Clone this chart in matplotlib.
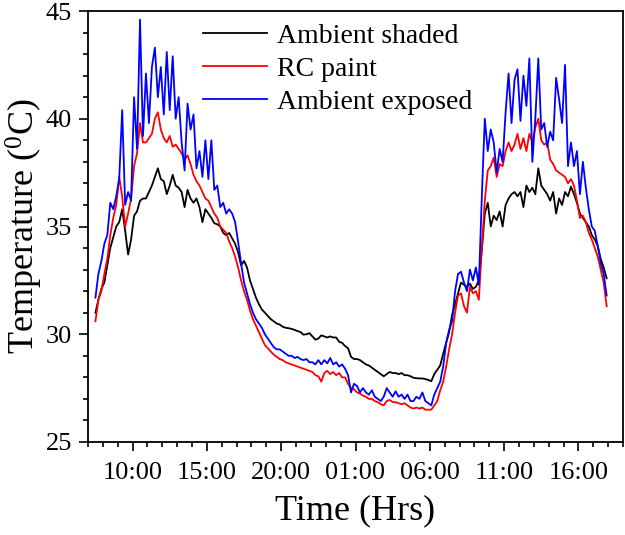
import numpy as np
import matplotlib
matplotlib.use("Agg")
import matplotlib.pyplot as plt
from matplotlib.ticker import AutoMinorLocator, FixedLocator

plt.rcParams['font.family'] = ['Liberation Serif', 'DejaVu Serif']
plt.rcParams['mathtext.fontset'] = 'custom'
plt.rcParams['mathtext.rm'] = 'Liberation Serif'
plt.rcParams['mathtext.it'] = 'Liberation Serif'

# sample times: hours since midnight of day 1, one reading every 0.2 h
start_hour = 7.5
step_hours = 0.2

ambient_shaded = [
    31.0, 31.6, 32.1, 32.4, 33.2, 34.0, 34.5, 35.0, 35.2, 35.8, 34.8, 33.7, 34.4,
    35.5, 35.7, 36.2, 36.3, 36.3, 36.6, 36.9, 37.3, 37.7, 37.2, 37.1, 36.5, 36.9, 37.4, 36.9,
    36.8, 36.6, 35.9, 36.7, 36.3, 36.1, 36.3, 35.9, 35.2, 35.8, 35.6, 35.4, 35.15, 35.1, 35.0, 34.7, 34.6, 34.7, 34.45, 34.2,
    33.8, 33.2, 33.4, 33.1, 32.5, 32.1, 31.7, 31.4, 31.15, 31.0,
    30.85, 30.7, 30.6, 30.5, 30.45, 30.35, 30.3, 30.28, 30.25, 30.2, 30.15, 30.1, 29.98, 30.0, 30.05,
    29.9, 29.75, 29.8, 29.95, 29.9, 29.85, 29.9, 29.85, 29.85, 29.65, 29.6, 29.45, 29.35, 28.95, 28.85,
    28.85, 28.8, 28.7, 28.6, 28.55, 28.45, 28.35, 28.25, 28.15, 28.05, 28.15, 28.25, 28.2, 28.2, 28.15,
    28.2, 28.1, 28.1, 28.05, 27.98, 27.96, 27.95, 27.95, 27.92, 27.88, 27.82, 28.15, 28.35, 28.55, 29.1,
    29.6, 30.1, 30.9, 31.4, 31.9, 32.4, 32.3, 32.2, 32.35, 32.1, 32.2, 32.5, 33.9, 35.6, 36.1,
    35.0, 35.5, 35.3, 35.7, 35.0, 36.0, 36.3, 36.5, 36.6, 36.4, 36.6, 35.9, 36.9, 36.6, 36.8, 36.5, 37.7, 36.9, 36.7, 36.5,
    36.2, 36.6, 35.6, 36.3, 36.0, 36.6, 36.4, 36.85, 36.5, 36.1, 35.6, 35.4, 35.2, 35.0, 34.6, 34.4, 34.1, 33.5, 33.1, 32.6,
]

rc_paint = [
    30.6, 31.6, 32.0, 32.8, 33.5, 34.6, 35.4, 36.0, 37.3, 36.4, 35.0, 35.6, 36.3,
    37.8, 38.4, 39.8, 38.9, 38.9, 39.1, 39.3, 40.0, 40.3, 39.5, 39.1, 38.9, 39.2, 38.7, 38.8,
    38.6, 38.4, 38.1, 38.3, 37.9, 37.4, 37.1, 36.9, 36.6, 36.3, 36.2, 35.9, 35.6, 35.4, 35.0, 34.85, 34.7, 34.3, 34.0, 33.6,
    33.1, 32.5, 32.0, 31.6, 31.1, 30.7, 30.4, 30.1, 29.8, 29.5,
    29.35, 29.2, 29.05, 28.95, 28.85, 28.8, 28.7, 28.65, 28.6, 28.55, 28.5, 28.45, 28.4, 28.35, 28.3,
    28.25, 28.1, 28.05, 27.8, 28.2, 28.3, 28.15, 28.25, 28.1, 28.2, 28.0, 28.0, 27.7, 27.5, 27.45,
    27.3, 27.25, 27.15, 27.1, 27.0, 27.0, 26.9, 26.85, 26.75, 26.7, 26.9, 26.95, 26.85, 26.85, 26.8,
    26.75, 26.8, 26.7, 26.6, 26.55, 26.6, 26.55, 26.6, 26.5, 26.5, 26.5, 26.7, 26.9, 27.4, 27.8,
    28.5, 29.3, 30.0, 31.0, 31.8, 31.9, 31.3, 31.0, 32.2, 31.9, 32.0, 31.6, 34.0, 36.2, 37.6,
    37.8, 38.2, 37.3, 37.9, 37.8, 38.5, 38.9, 38.5, 38.8, 39.3, 38.6, 39.1, 38.5, 39.3, 38.9, 39.6, 40.0, 39.0, 38.8, 38.9,
    38.1, 37.9, 37.6, 37.5, 37.4, 37.3, 37.0, 37.2, 36.9, 36.2, 35.4, 35.5, 35.2, 34.7, 34.4, 34.0, 33.6, 33.0, 32.4, 31.3,
]

ambient_exposed = [
    31.7, 32.8, 33.4, 34.2, 34.6, 36.1, 35.8, 36.4, 37.2, 40.4, 36.0, 36.6, 36.2,
    41.0, 38.6, 44.6, 39.2, 42.1, 39.8, 42.4, 43.3, 41.0, 42.4, 40.2, 43.1, 40.4, 42.9, 40.0,
    41.0, 38.9, 37.6, 40.7, 39.5, 40.2, 37.7, 38.5, 37.3, 39.0, 37.2, 39.0, 36.7, 36.9, 35.9, 36.1, 35.6, 35.8, 35.6, 35.2,
    34.3, 33.3, 32.4, 31.9, 31.4, 31.0, 30.7, 30.5, 30.3, 30.0,
    29.8, 29.6, 29.4, 29.3, 29.3, 29.2, 29.1, 29.0, 29.0, 28.9, 28.95, 28.85, 28.8, 28.85, 28.7,
    28.7, 28.6, 28.8, 28.6, 28.8, 28.65, 28.9, 28.6, 28.7, 28.5, 28.6, 28.4, 28.1, 27.3, 27.7,
    27.6, 27.3, 27.5, 27.3, 27.2, 27.4, 27.1, 27.0, 26.9, 27.1, 27.5, 27.3, 27.1, 27.35, 27.1,
    27.2, 27.0, 27.2, 26.9, 26.9, 27.1, 27.0, 27.3, 26.9, 26.8, 26.7, 27.2, 27.5, 27.8, 28.5,
    29.6, 30.2, 30.6, 32.0, 32.8, 32.9, 32.4, 32.0, 33.0, 32.5, 33.1, 32.3, 36.4, 40.0, 38.5,
    39.5, 38.9, 37.5, 38.6, 38.0, 40.3, 42.1, 39.8, 41.8, 42.3, 39.9, 42.0, 40.6, 42.8, 38.0, 40.0, 42.8, 39.5, 39.8, 38.7,
    39.4, 39.0, 41.9, 40.9, 39.8, 42.5, 37.8, 38.9, 37.8, 38.5, 36.5, 38.0, 36.8, 35.8, 35.0, 34.8, 34.1, 33.3, 32.8, 31.8,
]

tick_hours = [10, 15, 20, 25, 30, 35, 40]
tick_labels = ['10:00', '15:00', '20:00', '01:00', '06:00', '11:00', '16:00']
series_names = ['Ambient shaded', 'RC paint', 'Ambient exposed']
series_colors = ['black', '#ff0000', '#0000ff']

t = start_hour + step_hours * np.arange(len(ambient_shaded))

fig = plt.figure(figsize=(6.25, 5.35), dpi=100)
ax = fig.add_axes([88/625, 1 - 442/535, (623-88)/625, (442-11)/535])

for vals, name, col in zip([ambient_shaded, rc_paint, ambient_exposed], series_names, series_colors):
    ax.plot(t, vals, color=col, lw=1.3, label=name)

ax.set_xlim(7, 43)
ax.set_ylim(25, 45)
ax.xaxis.set_major_locator(FixedLocator(tick_hours))
ax.set_xticklabels(tick_labels)
ax.xaxis.set_minor_locator(AutoMinorLocator(5))
ax.set_yticks([25, 30, 35, 40, 45])
ax.yaxis.set_minor_locator(AutoMinorLocator(5))

ax.tick_params(which='both', direction='out', width=1.2, top=False, right=False, labelsize=19)
ax.tick_params(which='major', length=6.5)
ax.tick_params(which='minor', length=3.6)
ax.tick_params(axis='y', pad=5)
ax.tick_params(axis='x', pad=8)
for sp in ax.spines.values():
    sp.set_linewidth(1.3)

ax.set_xlabel('Time (Hrs)', fontsize=26, labelpad=7)
ax.set_ylabel(r'Temperature ($^{0}$C)', fontsize=26)
ax.yaxis.set_label_coords(-0.08, 0.5)

leg = ax.legend(loc='upper left', bbox_to_anchor=(0.215, 0.972), frameon=False,
                fontsize=20, handlelength=2.3, handletextpad=0.35, labelspacing=0.28,
                borderpad=0, borderaxespad=0)
for line in leg.get_lines():
    line.set_linewidth(1.3)

fig.savefig('out.png', dpi=100)
